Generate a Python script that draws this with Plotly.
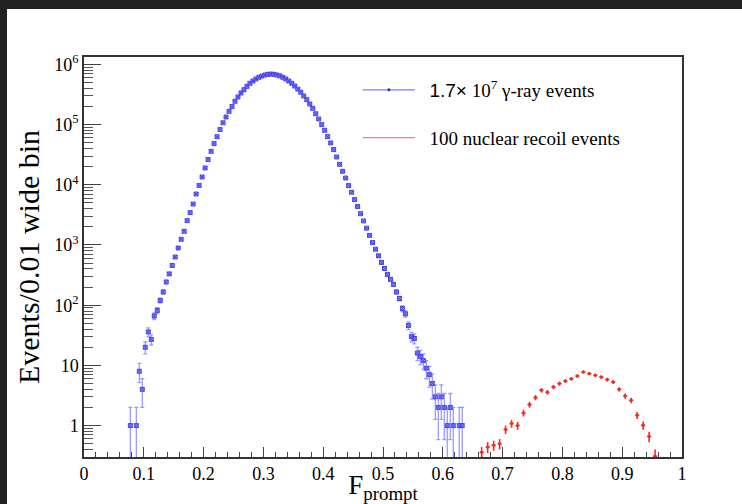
import numpy as np
import plotly.graph_objects as go

# gamma-ray events (bin centres, counts per bin)
gamma_x = [0.0775, 0.0875, 0.0925, 0.0975, 0.1025, 0.1075, 0.1125, 0.1175, 0.1225, 0.1275,
           0.1325, 0.1375, 0.1425, 0.1475, 0.1525, 0.1575, 0.1625, 0.1675, 0.1725, 0.1775,
           0.1825, 0.1875, 0.1925, 0.1975, 0.2025, 0.2075, 0.2125, 0.2175, 0.2225, 0.2275,
           0.2325, 0.2375, 0.2425, 0.2475, 0.2525, 0.2575, 0.2625, 0.2675, 0.2725, 0.2775,
           0.2825, 0.2875, 0.2925, 0.2975, 0.3025, 0.3075, 0.3125, 0.3175, 0.3225, 0.3275,
           0.3325, 0.3375, 0.3425, 0.3475, 0.3525, 0.3575, 0.3625, 0.3675, 0.3725, 0.3775,
           0.3825, 0.3875, 0.3925, 0.3975, 0.4025, 0.4075, 0.4125, 0.4175, 0.4225, 0.4275,
           0.4325, 0.4375, 0.4425, 0.4475, 0.4525, 0.4575, 0.4625, 0.4675, 0.4725, 0.4775,
           0.4825, 0.4875, 0.4925, 0.4975, 0.5025, 0.5075, 0.5125, 0.5175, 0.5225, 0.5275,
           0.5325, 0.5375, 0.5425, 0.5475, 0.5525, 0.5575, 0.5625, 0.5675, 0.5725, 0.5775,
           0.5825, 0.5875, 0.5925, 0.5975, 0.6025, 0.6075, 0.6125, 0.6175, 0.6275, 0.6325]
gamma_counts = [1, 1, 8, 4, 20, 36, 27, 66, 82, 120,
                166, 243, 331, 457, 631, 891, 1245, 1687, 2541, 3451,
                4786, 7031, 9772, 13490, 19050, 26300, 35970, 48310, 63100, 82600,
                107200, 133700, 166000, 199500, 243800, 287700, 335000, 380200, 432500, 485300,
                529700, 572800, 610900, 641200, 666800, 683900, 691800, 683900, 666800, 645700,
                610900, 572800, 529700, 485300, 436500, 389000, 344300, 298500, 260000, 219800,
                186200, 151400, 123900, 100000, 80350, 63100, 49550, 38460, 28970, 21880,
                16750, 12970, 9705, 7516, 5675, 4365, 3311, 2512, 1905, 1445,
                1096, 851, 661, 513, 407, 324, 269, 222, 166, 129,
                88, 72, 46, 30, 28, 16, 14, 12, 9, 7,
                5, 3, 2, 3, 2, 1, 2, 1, 1, 1]

# nuclear recoil events (bin centres, scaled counts, errors)
nr_x = [0.665, 0.675, 0.685, 0.695, 0.705, 0.715, 0.725, 0.735, 0.745, 0.755,
        0.765, 0.775, 0.785, 0.795, 0.805, 0.815, 0.825, 0.835, 0.845, 0.855,
        0.865, 0.875, 0.885, 0.895, 0.905, 0.915, 0.925, 0.935, 0.945, 0.955]
nr_counts = [0.36, 0.44, 0.47, 0.50, 0.86, 1.08, 1.00, 1.62, 2.23, 2.92,
             3.86, 3.57, 4.38, 4.98, 5.50, 6.00, 6.66, 7.77, 7.30, 6.85,
             6.40, 5.80, 5.30, 4.00, 3.10, 2.63, 1.48, 1.01, 0.66, 0.31]
nr_err = [0.08, 0.09, 0.09, 0.10, 0.14, 0.16, 0.15, 0.21, 0.25, 0.29,
          0.34, 0.32, 0.36, 0.39, 0.41, 0.43, 0.46, 0.50, 0.48, 0.46,
          0.44, 0.42, 0.40, 0.34, 0.30, 0.28, 0.20, 0.16, 0.13, 0.09]

x_tick_vals = [0, 0.1, 0.2, 0.3, 0.4, 0.5, 0.6, 0.7, 0.8, 0.9, 1.0]
x_tick_text = ["0", "0.1", "0.2", "0.3", "0.4", "0.5", "0.6", "0.7", "0.8", "0.9", "1"]
y_tick_vals = [1, 10, 100, 1000, 10000, 100000, 1000000]
y_tick_text = ["1", "10", "10<sup>2</sup>", "10<sup>3</sup>", "10<sup>4</sup>",
               "10<sup>5</sup>", "10<sup>6</sup>"]

gamma_name = "\u00a0\u00a0<span style='font-family:Liberation Sans'>1.7×</span> 10<sup>7</sup> γ-ray events"
nr_name = "\u00a0\u00a0100 nuclear recoil events"

RED = "rgb(240,45,30)"
FONT = "Liberation Serif"
BG = "#222222"

fig = go.Figure()

gamma_err = np.sqrt(np.array(gamma_counts, dtype=float))
fig.add_trace(go.Scatter(
    x=gamma_x, y=gamma_counts, mode="markers", showlegend=False,
    marker=dict(symbol="square-x", size=4, color="rgba(150,150,255,0.85)",
                line=dict(color="rgba(50,50,240,0.85)", width=1)),
    error_y=dict(type="data", array=gamma_err, color="rgba(90,90,255,0.6)",
                 thickness=1.3, width=2),
))
fig.add_trace(go.Scatter(
    x=nr_x, y=nr_counts, mode="markers", showlegend=False,
    marker=dict(symbol="circle", size=3, color=RED),
    error_y=dict(type="data", array=nr_err, color=RED, thickness=1.6, width=0),
    error_x=dict(type="constant", value=0.0035, color=RED, thickness=1.6, width=0),
))

# legend entries
fig.add_trace(go.Scatter(
    x=[None], y=[None], mode="lines+markers", name=gamma_name, legendgroup="g",
    line=dict(color="rgba(90,90,255,0.8)", width=1.2),
    marker=dict(size=3, color="rgba(40,40,200,1)"),
))
fig.add_trace(go.Scatter(
    x=[None], y=[None], mode="lines", name=nr_name, legendgroup="n",
    line=dict(color="rgba(245,110,110,0.9)", width=1.2),
))

L, R, T, B = 84, 682, 57, 457
W, H = 742, 504

def px(xp):
    return (xp - L) / (R - L)

def py(yp):
    return (B - yp) / (B - T)

fig.add_shape(type="rect", xref="paper", yref="paper", layer="below",
              x0=px(7), x1=px(W + 5), y0=py(H + 5), y1=py(9),
              fillcolor="white", line=dict(width=0))

fig.update_layout(
    width=W, height=H,
    margin=dict(l=L, r=W - R, t=T, b=H - B, autoexpand=False),
    paper_bgcolor=BG,
    plot_bgcolor="white",
    font=dict(family=FONT, color="black", size=18),
    legend=dict(x=0.458, y=0.965, xanchor="left", yanchor="top",
                bgcolor="rgba(0,0,0,0)", font=dict(family=FONT, size=19),
                tracegroupgap=20, itemwidth=52),
    xaxis=dict(range=[0, 1], tickvals=x_tick_vals, ticktext=x_tick_text, automargin=False,
               ticks="inside", ticklen=10, tickcolor="#444", tickwidth=1,
               showline=True, linecolor="#333", linewidth=1.5, mirror=True,
               showgrid=False, zeroline=False,
               minor=dict(dtick=0.02, ticks="inside", ticklen=5, tickcolor="#444", showgrid=False),
               tickfont=dict(size=18),
               title=dict(text="F<sub>prompt</sub>", font=dict(size=27), standoff=0)),
    yaxis=dict(type="log", range=[-0.522, 6.123], tickvals=y_tick_vals, ticktext=y_tick_text,
               automargin=False,
               ticks="inside", ticklen=17, tickcolor="#444", tickwidth=1,
               showline=True, linecolor="#333", linewidth=1.5, mirror=True,
               showgrid=False, zeroline=False,
               minor=dict(dtick="D1", ticks="inside", ticklen=9, tickcolor="#555", showgrid=False),
               tickfont=dict(size=18),
               title=dict(text="Events/0.01 wide bin", font=dict(size=30), standoff=6)),
)

fig.write_html("out.html", config={"displayModeBar": False},
               post_script="document.body.style.margin='0';document.body.style.padding='0';"
                           "document.body.style.background='" + BG + "';")
